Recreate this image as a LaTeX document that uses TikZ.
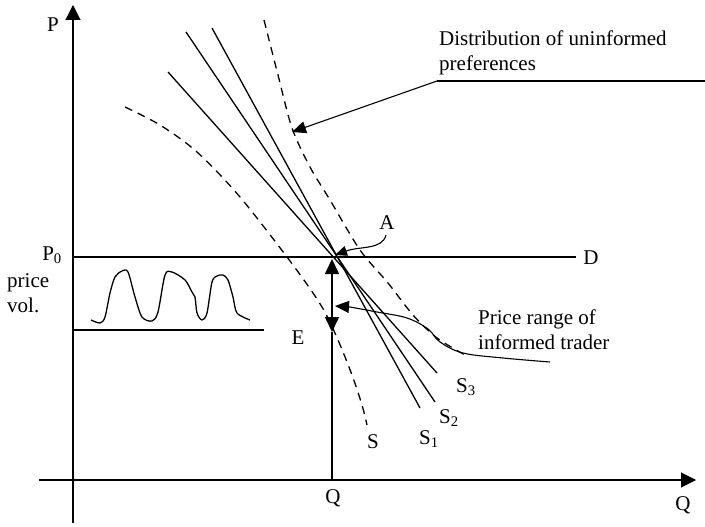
\documentclass[tikz,border=0pt]{standalone}
\usepackage{fontspec}
\setmainfont{Liberation Serif}
\usetikzlibrary{arrows.meta}
\begin{document}
\begin{tikzpicture}[x=1pt,y=-1pt,
  lbl/.style={inner sep=0pt,font=\fontsize{21}{25}\selectfont},
  ax/.style={line width=1.1pt,-{Triangle[length=15pt,width=15pt]}},
  thin line/.style={line width=1.1pt},
  sline/.style={line width=1.3pt},
  dcurve/.style={line width=1.3pt,dash pattern=on 8pt off 6pt},
  lead/.style={line width=1.1pt,-{Triangle[length=14pt,width=12pt]}},
  dbl/.style={line width=1.6pt,{Triangle[length=15pt,width=14pt]}-{Triangle[length=15pt,width=14pt]}}]
\useasboundingbox (0,0) rectangle (705,527);
% axes
\coordinate (ybot) at (73,523);
\coordinate (ytop) at (73,5);
\coordinate (xleft) at (39,480);
\coordinate (xright) at (696,480);
\draw[ax] (ybot) -- (ytop);
\draw[ax] (xleft) -- (xright);
\node[lbl] (P) at (53,25) {P};
\node[lbl] (Qr) at (683,505) {Q};
\node[lbl] (Q) at (333,498) {Q};
% P0 line
\coordinate (p0a) at (73,257);
\coordinate (p0b) at (576,257);
\draw[thin line] (p0a) -- (p0b);
\node[lbl,anchor=base east] (P0) at (62,260) {P\textsubscript{0}};
\node[lbl] (D) at (591,258) {D};
\node[lbl,anchor=base west] (price) at (7,287) {price};
\node[lbl,anchor=base west] (vol) at (7,312) {vol.};
% price vol box
\coordinate (bxa) at (73,330);
\coordinate (bxb) at (264,330);
\draw[thin line] (bxa) -- (bxb);
\draw[sline,line join=round] plot[smooth,tension=0.5] coordinates {(91,320) (100,323) (105,317) (110,293) (115,277) (122,271) (128,272) (135,297) (142,317) (152,321) (158,312) (165,275) (172,272) (185,280) (192,292) (195,297) (197,313) (202,320) (207,313) (212,282) (217,276) (223,275) (228,280) (233,297) (237,313) (250,320)};
% supply lines
\coordinate (s1a) at (212,28);  \coordinate (s1b) at (420,408);
\coordinate (s2a) at (186,32);  \coordinate (s2b) at (435,402);
\coordinate (s3a) at (168,72);  \coordinate (s3b) at (437,373);
\draw[sline] (s1a) -- (s1b);
\draw[sline] (s2a) -- (s2b);
\draw[sline] (s3a) -- (s3b);
\node[lbl] (S1) at (429,439) {S\textsubscript{1}};
\node[lbl] (S2) at (449,418) {S\textsubscript{2}};
\node[lbl] (S3) at (466,387) {S\textsubscript{3}};
% dashed curves
\draw[dcurve] plot[smooth] coordinates {(125,107) (160,125) (197,152) (240,197) (293,265) (322,307) (338,340) (352,375) (362,405) (367,425)};
\node[lbl] (S) at (373,442) {S};
\draw[dcurve] plot[smooth] coordinates {(264,20) (278,75) (292,128) (310,167) (330,200) (360,250) (388,283) (413,315) (437,338) (465,355)};
% Q vertical line and double arrow
\coordinate (qtop) at (332,332);
\coordinate (qbot) at (332,480);
\draw[thin line] (qbot) -- (qtop);
\coordinate (ra) at (332,259);
\coordinate (rb) at (332,332);
\draw[dbl] (ra) -- (rb);
\node[lbl] (E) at (298,338) {E};
% A label and arrow
\node[lbl] (A) at (387,223) {A};
\coordinate (Atip) at (335,255);
\draw[lead,-{Triangle[length=12pt,width=10pt]}] (A.south) ++(-1,5) .. controls (382,250) and (360,246) .. (Atip);
% distribution leader
\node[lbl,anchor=north west,align=left] (dist) at (439,31) {Distribution of uninformed\\preferences};
\coordinate (dl) at (437,81);
\coordinate (dr) at (705,81);
\coordinate (dtip) at (292,132);
\draw[thin line] (dr) -- (dl);
\draw[lead] (dl) -- (dtip);
% price range leader
\node[lbl,anchor=north west,align=left] (prange) at (478,310) {Price range of\\informed trader};
\coordinate (pstart) at (550,362);
\coordinate (ptip) at (335,306);
\draw[lead] plot[smooth,tension=0.6] coordinates {(550,362) (503,358) (463,353) (440,342) (428,329) (407,318) (377,312) (350,307)} -- (ptip);
\end{tikzpicture}
\end{document}
